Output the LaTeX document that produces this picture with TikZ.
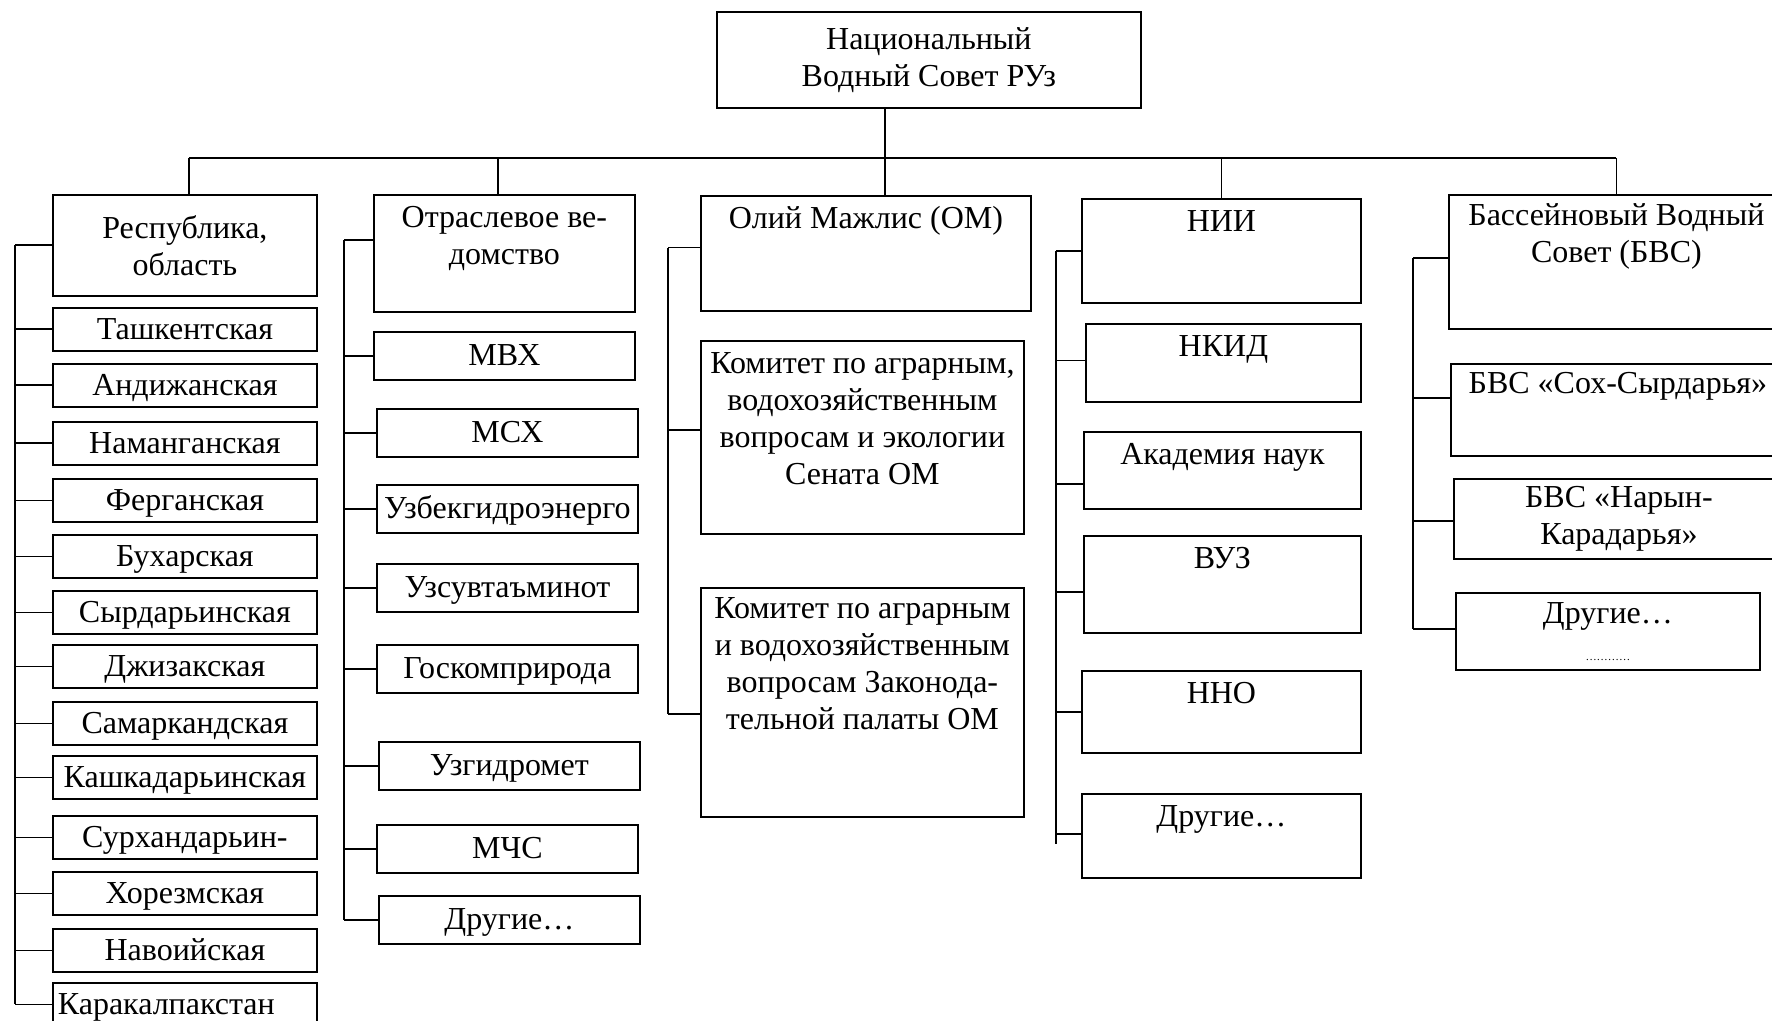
\documentclass[tikz,border=0pt]{standalone}
\usepackage{fontspec}
\setmainfont{Liberation Serif}
\usetikzlibrary{calc}

\tikzset{
  box/.style={draw, line width=0.9pt, inner xsep=1.5pt, inner ysep=0pt, anchor=north west,
    align=center, font=\fontsize{16}{18.4}\selectfont},
  leafbox/.style={box, minimum height=21.5pt, text height=11pt, text depth=1pt},
  topbox/.style={box, text height=16.5pt, text depth=#1},
  link/.style={line width=0.9pt},
}

\begin{document}
\begin{tikzpicture}[x=0.5pt, y=-0.5pt]
  % Frame (pixel grid of the page)
  \useasboundingbox (0,0) rectangle (1772,1021);
  \clip (0,0) rectangle (1772,1021);

  % Trunk positions of the five columns
  \coordinate (t1) at (15,0);
  \coordinate (t2) at (344,0);
  \coordinate (t3) at (668,0);
  \coordinate (t4) at (1056,0);
  \coordinate (t5) at (1413,0);
  \coordinate (bus) at (885,158); % main horizontal line

  % National council
  \node[box, minimum width=212pt, minimum height=48pt] (top) at (716,11) {Национальный\\Водный Совет РУз};

  % Column 1: republic and regions
  \node[box, minimum width=132pt, minimum height=50.5pt] (r0) at (52,194) {Республика,\\область};
  \foreach \n/\y/\lbl in {r1/307/Ташкентская, r2/363/Андижанская, r3/421/Наманганская,
      r4/478/Ферганская, r5/534/Бухарская, r6/590/Сырдарьинская, r7/644/Джизакская,
      r8/701/Самаркандская, r9/755/Кашкадарьинская, r10/815/Сурхандарьин-,
      r11/871/Хорезмская, r12/928/Навоийская}
    \node[leafbox, minimum width=132pt] (\n) at (52,\y) {\lbl};
  \node[leafbox, minimum width=132pt, text width=127pt, align=left] (r13) at (52,982) {Каракалпакстан};

  % Column 2: ministries
  \node[topbox=23.6pt, text height=34.9pt, minimum width=130.5pt] (o0) at (373,194) {Отраслевое ве-\\домство};
  \foreach \n/\x/\y/\lbl in {o1/373/331/МВХ, o2/376/408/МСХ, o3/376/484/Узбекгидроэнерго,
      o4/376/563/Узсувтаъминот, o5/376/644/Госкомприрода, o6/378/741/Узгидромет,
      o7/376/824/МЧС, o8/378/895/Другие…}
    \node[leafbox, minimum width=130.5pt, minimum height=24pt] (\n) at (\x,\y) {\lbl};

  % Column 3: parliament
  \node[topbox=41pt, minimum width=165pt] (om) at (700,195) {Олий Мажлис (ОМ)};
  \node[topbox=24.8pt, text height=71.7pt, minimum width=161.5pt] (k1) at (700,340)
    {Комитет по аграрным,\\водохозяйственным\\вопросам и экологии\\Сената ОМ};
  \node[topbox=43.8pt, text height=70.7pt, minimum width=161.5pt] (k2) at (700,587)
    {Комитет по аграрным\\и водохозяйственным\\вопросам Законода-\\тельной палаты ОМ};

  % Column 4: science
  \node[topbox=35.5pt, minimum width=139.5pt] (nii) at (1081,198) {НИИ};
  \node[topbox=22.5pt, minimum width=137.5pt] (nkid) at (1085,323) {НКИД};
  \node[topbox=22pt, minimum width=138.5pt] (akad) at (1083,431) {Академия наук};
  \node[topbox=32pt, minimum width=138.5pt] (vuz) at (1083,535) {ВУЗ};
  \node[topbox=24.5pt, minimum width=139.5pt] (nno) at (1081,670) {ННО};
  \node[topbox=25.5pt, minimum width=139.5pt] (dr4) at (1081,793) {Другие…};

  % Column 5: basin councils
  \node[topbox=33.1pt, text height=33.9pt, minimum width=167.5pt] (bvs) at (1448,194) {Бассейновый Водный\\Совет (БВС)};
  \node[topbox=31pt, text height=15pt, minimum width=167pt] (soh) at (1450,363) {БВС «Сох-Сырдарья»};
  \node[box, minimum width=165pt, minimum height=40pt] (naryn) at (1453,478) {БВС «Нарын-\\Карадарья»};
  \node[topbox=4.6pt, text height=33.9pt, minimum width=152pt] (dr5) at (1455,592)
    {Другие…\\{\fontsize{5.6}{6}\selectfont …………}};

  % Drop points on the column heads
  \coordinate (d1) at ([xshift=2pt]r0.north);
  \coordinate (d2) at ([xshift=-3.25pt]o0.north);

  % Main line and drops
  \draw[link] (top.south -| bus) -- (om.north -| bus);
  \draw[link] (bus -| d1) -- (bus -| bvs.north);
  \foreach \n in {d1,d2,nii.north,bvs.north}
    \draw[link] (bus -| \n) -- (\n);

  % Column 1 and 2 branches
  \foreach \n in {r0,r1,r2,r3,r4,r5,r6,r7,r8,r9,r10,r11,r12,r13}
    \draw[link] (t1 |- \n.west) -- (\n.west);
  \draw[link] (t1 |- r0.west) -- (t1 |- r13.west);
  \foreach \n in {o1,o2,o3,o4,o5,o6,o7,o8}
    \draw[link] (t2 |- \n.west) -- (\n.west);

  % Other branches, at a fraction of the box side
  \foreach \t/\n/\fr in {t2/o0/.39, t3/om/.45, t3/k1/.46, t3/k2/.55,
      t4/nii/.5, t4/nkid/.47, t4/akad/.675, t4/vuz/.58, t4/nno/.5, t4/dr4/.48,
      t5/bvs/.47, t5/soh/.37, t5/naryn/.525, t5/dr5/.47} {
    \coordinate (\n-s) at ($(\n.north west)!\fr!(\n.south west)$);
    \draw[link] (\t |- \n-s) -- (\n-s);
  }
  \draw[link] (t2 |- o0-s) -- (t2 |- o8.west);
  \draw[link] (t3 |- om-s) -- (t3 |- k2-s);
  \draw[link] (t4 |- nii-s) -- ([yshift=-5pt]t4 |- dr4-s);
  \draw[link] (t5 |- bvs-s) -- (t5 |- dr5-s);
\end{tikzpicture}
\end{document}
